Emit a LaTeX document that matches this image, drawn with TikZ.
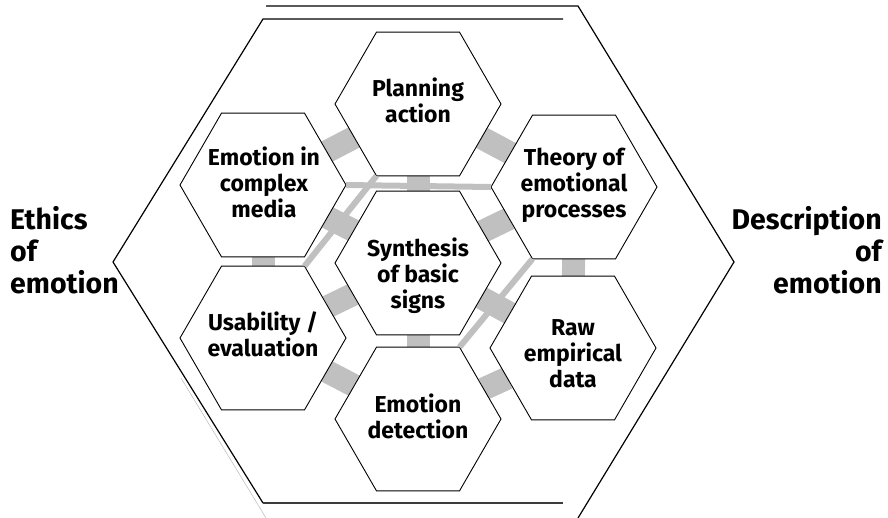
\documentclass[tikz,border=0pt]{standalone}
\usepackage{fontspec}
\setmainfont{Fira Sans}
\usetikzlibrary{shapes.geometric,backgrounds}
\definecolor{linkgray}{RGB}{192,192,192}
\definecolor{framedark}{RGB}{60,60,60}
\begin{document}
\begin{tikzpicture}[x=1pt,y=-1pt,
  hexcell/.style={regular polygon,regular polygon sides=6,minimum size=166pt,
    inner sep=0pt,outer sep=0pt,draw=black,line width=0.9pt,fill=white},
  celltext/.style={align=center,font=\fontsize{23}{26}\selectfont\bfseries,inner sep=0pt},
  sidetext/.style={font=\fontsize{28.5}{32}\selectfont\bfseries,inner sep=0pt},
  bond/.style={draw=linkgray,line width=23pt},
  strand/.style={draw=linkgray,line width=6pt},
  frame/.style={draw=black,line width=1.2pt,line join=miter}]
\useasboundingbox (0,0) rectangle (888,517);

% outer frame: two offset hexagonal outlines
\coordinate (rTL) at (266,6);
\coordinate (rTR) at (578,6);
\coordinate (rR)  at (734,262);
\coordinate (rBR) at (578,518);
\coordinate (rLo) at (181,378);
\coordinate (rBL) at (266,518);
\draw[frame] (rTL) -- (rTR) -- (rR) -- (rBR);
\draw[gray!55,line width=0.5pt] (rLo) -- (rBL);

\coordinate (lTL) at (263,19);
\coordinate (lTR) at (563,19);
\coordinate (lL)  at (113,262);
\coordinate (lBL) at (263,503);
\coordinate (lBR) at (563,503);
\draw[frame] (lTR) -- (lTL) -- (lL) -- (lBL);
\draw[draw=framedark,line width=2pt] (lBL) -- (lBR);

% honeycomb cells
\node[hexcell] (pl)  at (418,104) {};
\node[hexcell] (ec)  at (263,185) {};
\node[hexcell] (th)  at (574,187) {};
\node[hexcell] (syn) at (418,263) {};
\node[hexcell] (us)  at (263,338) {};
\node[hexcell] (raw) at (573,348) {};
\node[hexcell] (ed)  at (418,419) {};

% bonds between neighbouring cells (covered by the cells except in the gaps)
\begin{pgfonlayer}{background}
  \draw[bond] (syn) -- (pl);
  \draw[bond] (syn) -- (th);
  \draw[bond] (syn) -- (raw);
  \draw[bond] (syn) -- (ed);
  \draw[bond] (syn) -- (us);
  \draw[bond] (syn) -- (ec);
  \draw[bond] (pl) -- (th);
  \draw[bond] (th) -- (raw);
  \draw[bond] (raw) -- (ed);
  \draw[bond] (ed) -- (us);
  \draw[bond] (us) -- (ec);
  \draw[bond] (ec) -- (pl);
\end{pgfonlayer}

% thin strands running through the gaps
\draw[strand] (ec.0) -- (th.180);
\draw[strand] (pl.240) -- (us.60);
\draw[strand] (th.240) -- (ed.60);

% cell labels
\node[celltext] (pl-t)  at (418,100.5) {Planning\\action};
\node[celltext] (ec-t)  at (264,182) {Emotion in\\complex\\media};
\node[celltext] (th-t)  at (574,185) {Theory of\\emotional\\processes};
\node[celltext] (syn-t) at (418,276) {Synthesis\\of basic\\signs};
\node[celltext] (us-t)  at (263,334) {Usability /\\evaluation};
\node[celltext] (raw-t) at (573,353.5) {Raw\\empirical\\data};
\node[celltext] (ed-t)  at (418,416.5) {Emotion\\detection};

% side labels
\node[sidetext,align=left,anchor=west]  (ethics) at (10,250) {Ethics\\of\\emotion};
\node[sidetext,align=right,anchor=east] (descr)  at (882,250) {Description\\of\\emotion};
\end{tikzpicture}
\end{document}
